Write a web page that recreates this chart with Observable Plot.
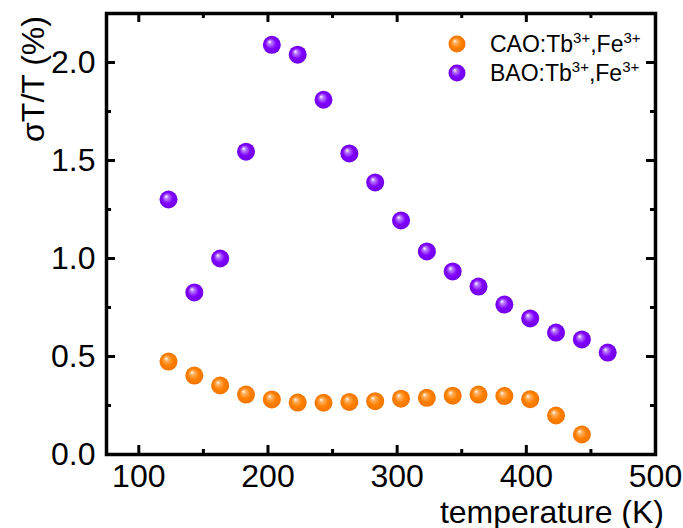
<!DOCTYPE html>
<html>
<head>
<meta charset="utf-8">
<script src="https://cdn.jsdelivr.net/npm/d3@7"></script>
<script src="https://cdn.jsdelivr.net/npm/@observablehq/plot@0.6"></script>
<style>
  html, body { margin: 0; padding: 0; background: white; }
  #chart { width: 683px; height: 528px; }
</style>
</head>
<body>
<div id="chart"></div>
<script>
// ---- data ----
const temperature = [123, 143, 163, 183, 203, 223, 243, 263, 283, 303, 323, 343, 363, 383, 403, 423, 443, 463];
const caoValues = [0.474, 0.403, 0.352, 0.306, 0.281, 0.265, 0.264, 0.268, 0.272, 0.285, 0.289, 0.300, 0.306, 0.298, 0.282, 0.199, 0.102];
const baoValues = [1.301, 0.827, 1.000, 1.545, 2.090, 2.040, 1.810, 1.536, 1.388, 1.194, 1.036, 0.934, 0.857, 0.765, 0.694, 0.622, 0.587, 0.520];
const seriesNames = ["CAO", "BAO"];
const xTicks = [100, 200, 300, 400, 500];
const xMinorTicks = [150, 250, 350, 450];
const yTicks = [0, 0.5, 1.0, 1.5, 2.0];
const yMinorTicks = [0.25, 0.75, 1.25, 1.75];

const cao = caoValues.map((v, i) => ({t: temperature[i], v}));
const bao = baoValues.map((v, i) => ({t: temperature[i], v}));

// ---- layout ----
const W = 683, H = 528;
const mL = 106, mR = 28, mT = 13, mB = 74;
const pw = W - mL - mR, ph = H - mT - mB;
const major = 9, minor = 5;
const font = "Liberation Sans, Arial, Helvetica, sans-serif";

const svg = Plot.plot({
  width: W, height: H,
  marginLeft: mL, marginRight: mR, marginTop: mT, marginBottom: mB,
  x: {domain: [75, 500]},
  y: {domain: [0, 2.25]},
  style: {fontFamily: font, fontSize: "32px", color: "black", background: "white"},
  marks: [
    // ticks (inward, on all four sides)
    Plot.tickX(xTicks, {x: d => d, insetTop: ph - major, strokeWidth: 3}),
    Plot.tickX(xTicks, {x: d => d, insetBottom: ph - major, strokeWidth: 3}),
    Plot.tickX(xMinorTicks, {x: d => d, insetTop: ph - minor, strokeWidth: 3}),
    Plot.tickX(xMinorTicks, {x: d => d, insetBottom: ph - minor, strokeWidth: 3}),
    Plot.tickY(yTicks, {y: d => d, insetRight: pw - major, strokeWidth: 3}),
    Plot.tickY(yTicks, {y: d => d, insetLeft: pw - major, strokeWidth: 3}),
    Plot.tickY(yMinorTicks, {y: d => d, insetRight: pw - minor, strokeWidth: 3}),
    Plot.tickY(yMinorTicks, {y: d => d, insetLeft: pw - minor, strokeWidth: 3}),
    Plot.frame({stroke: "black", strokeWidth: 3.5}),
    Plot.axisX(xTicks, {tickSize: 0, tickPadding: 10, label: null}),
    Plot.axisY(yTicks, {tickSize: 0, tickPadding: 11, label: null, tickFormat: d => d.toFixed(1)}),
    Plot.dot(cao, {x: "t", y: "v", r: 9, fill: "url(#gradCAO)"}),
    Plot.dot(bao, {x: "t", y: "v", r: 9, fill: "url(#gradBAO)"})
  ]
});

const s = d3.select(svg);
const defs = s.insert("defs", ":first-child");
function addGrad(id, c1, c2, c3) {
  const g = defs.append("radialGradient").attr("id", id)
    .attr("cx", "0.5").attr("cy", "0.5").attr("r", "0.5")
    .attr("fx", "0.36").attr("fy", "0.32");
  g.append("stop").attr("offset", "0").attr("stop-color", "#ffffff");
  g.append("stop").attr("offset", "0.22").attr("stop-color", c1);
  g.append("stop").attr("offset", "0.6").attr("stop-color", c2);
  g.append("stop").attr("offset", "1").attr("stop-color", c3);
}
addGrad("gradCAO", "#ffb366", "#ff8000", "#f07400");
addGrad("gradBAO", "#b77aff", "#8000ff", "#7000e6");

// axis titles
s.append("text")
  .attr("x", 664).attr("y", 522.5)
  .attr("text-anchor", "end")
  .attr("font-family", font).attr("font-size", 32)
  .attr("fill", "black")
  .text("temperature (K)");
s.append("text")
  .attr("transform", "translate(44,79) rotate(-90)")
  .attr("text-anchor", "middle")
  .attr("font-family", font).attr("font-size", 32)
  .attr("fill", "black")
  .text("σT/T (%)");

// legend
const legend = s.append("g").attr("font-family", font).attr("fill", "black").attr("text-anchor", "start");
[["gradCAO", 44, 52], ["gradBAO", 73, 81]].forEach(([g, cy, by], i) => {
  legend.append("circle").attr("cx", 457).attr("cy", cy).attr("r", 8.5).attr("fill", `url(#${g})`);
  const t = legend.append("text").attr("x", 490).attr("y", by).attr("font-size", 23).attr("text-anchor", "start");
  t.append("tspan").text(seriesNames[i] + ":Tb");
  t.append("tspan").attr("dy", -9).attr("font-size", 15).text("3+");
  t.append("tspan").attr("dy", 9).text(",Fe");
  t.append("tspan").attr("dy", -9).attr("font-size", 15).text("3+");
});

document.getElementById("chart").appendChild(svg);
</script>
</body>
</html>
